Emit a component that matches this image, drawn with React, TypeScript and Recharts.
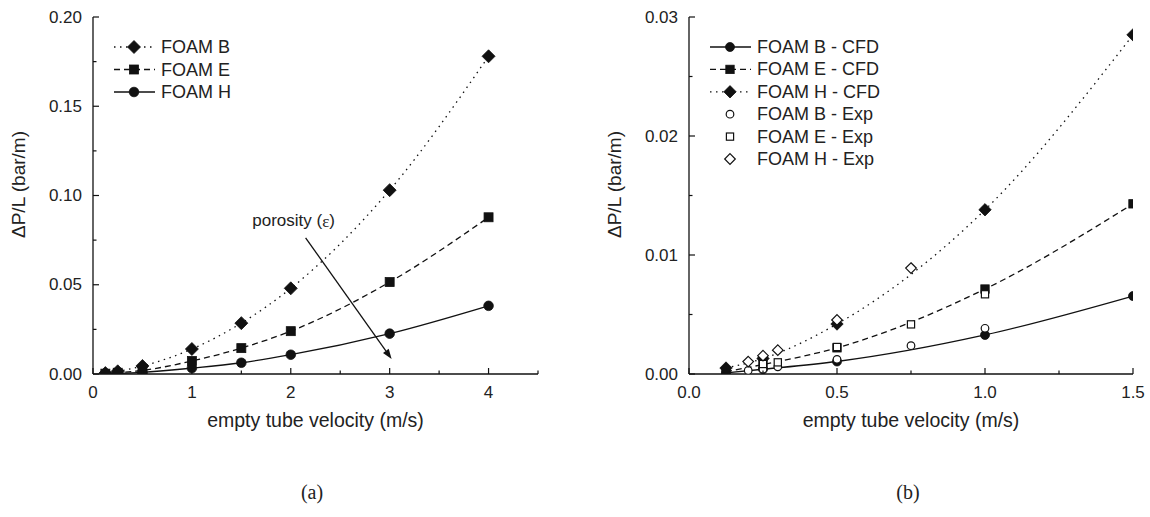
import React from 'react';
import { ComposedChart, Line, XAxis, YAxis, ReferenceLine, Legend } from 'recharts';

// ---------- data (a) ----------
const velA = [0.125, 0.25, 0.5, 1, 1.5, 2, 3, 4];
const foamB_A = [0.0005, 0.0015, 0.0045, 0.014, 0.0285, 0.048, 0.103, 0.178];
const foamE_A = [0.0002, 0.0007, 0.002, 0.0073, 0.0145, 0.024, 0.0515, 0.0878];
const foamH_A = [0.0001, 0.0003, 0.0009, 0.0033, 0.0063, 0.0108, 0.0226, 0.0382];

// ---------- data (b) ----------
const velCFD = [0.125, 0.25, 0.5, 1.0, 1.5];
const foamB_CFD = [0.0001, 0.0004, 0.00105, 0.00328, 0.00655];
const foamE_CFD = [0.0002, 0.0008, 0.0022, 0.00714, 0.0143];
const foamH_CFD = [0.0005, 0.0013, 0.0042, 0.0138, 0.0285];

const velExpB = [0.2, 0.25, 0.3, 0.5, 0.75, 1.0];
const foamB_Exp = [0.0003, 0.0004, 0.0006, 0.00123, 0.00238, 0.00384];
const velExpE = [0.25, 0.3, 0.5, 0.75, 1.0];
const foamE_Exp = [0.00084, 0.00098, 0.00227, 0.00417, 0.0067];
const velExpH = [0.2, 0.25, 0.3, 0.5, 0.75];
const foamH_Exp = [0.00104, 0.00154, 0.002, 0.00454, 0.0089];

// ---------- ticks ----------
const ticksXA = [0, 0.5, 1, 1.5, 2, 2.5, 3, 3.5, 4, 4.5];
const ticksYA = [0, 0.025, 0.05, 0.075, 0.1, 0.125, 0.15, 0.175, 0.2];
const ticksXB = [0, 0.25, 0.5, 0.75, 1.0, 1.25, 1.5];
const ticksYB = [0, 0.005, 0.01, 0.015, 0.02, 0.025, 0.03];

// ---------- labels ----------
const legendA = ['FOAM B', 'FOAM E', 'FOAM H'];
const legendB = ['FOAM B - CFD', 'FOAM E - CFD', 'FOAM H - CFD', 'FOAM B - Exp', 'FOAM E - Exp', 'FOAM H - Exp'];
const xTitle = 'empty tube velocity (m/s)';
const yTitle = '\u0394P/L (bar/m)';
const arrowText = 'porosity (';
const arrowStart = { x: 2.15, y: 0.0763 };
const arrowEnd = { x: 3.02, y: 0.0084 };
const panelLabels = ['(a)', '(b)'];

const toPts = (xs: number[], ys: number[]) => xs.map((x, i) => ({ x, y: ys[i] }));

const INK = '#111';
const TXT = '#222';
const DOTTED = '1.5 4.5';
const DASHED = '6 4';

function markerEl(kind: string, filled: boolean, cx: number, cy: number, size: number, key?: any) {
  const fill = filled ? INK : '#fff';
  const sw = filled ? 0.8 : 1.2;
  if (kind === 'circle') return <circle key={key} cx={cx} cy={cy} r={size} fill={fill} stroke={INK} strokeWidth={sw} />;
  if (kind === 'square') return <rect key={key} x={cx - size} y={cy - size} width={size * 2} height={size * 2} fill={fill} stroke={INK} strokeWidth={sw} />;
  return (
    <polygon key={key} points={`${cx},${cy - size} ${cx + size},${cy} ${cx},${cy + size} ${cx - size},${cy}`} fill={fill} stroke={INK} strokeWidth={sw} />
  );
}

const dot = (kind: string, filled: boolean, size: number) => (props: any) => {
  const { cx, cy, index } = props;
  if (cx == null || cy == null || isNaN(cx) || isNaN(cy)) return <g key={`n${index}`} />;
  return markerEl(kind, filled, cx, cy, size, `d${index}`);
};

function makeTick(side: string, majorStep: number, fmt: ((v: number) => string) | null) {
  return (props: any) => {
    const { x, y, payload } = props;
    const v = payload.value;
    const isMajor = Math.abs(v / majorStep - Math.round(v / majorStep)) < 1e-6;
    const L = isMajor ? 6 : 3.5;
    let line: any = null;
    let label: any = null;
    if (side === 'bottom') {
      line = <line x1={x} y1={y} x2={x} y2={y - L} stroke={INK} strokeWidth={1.2} />;
      if (fmt && isMajor) label = <text x={x} y={y + 18} textAnchor="middle" dominantBaseline="central" fontSize={17} fill={TXT}>{fmt(v)}</text>;
    } else if (side === 'top') {
      line = <line x1={x} y1={y} x2={x} y2={y + L} stroke={INK} strokeWidth={1.2} />;
    } else if (side === 'left') {
      line = <line x1={x} y1={y} x2={x + L} y2={y} stroke={INK} strokeWidth={1.2} />;
      if (fmt && isMajor) label = <text x={x - 11} y={y} textAnchor="end" dominantBaseline="central" fontSize={17} fill={TXT}>{fmt(v)}</text>;
    } else {
      line = <line x1={x} y1={y} x2={x - L} y2={y} stroke={INK} strokeWidth={1.2} />;
    }
    return <g>{line}{label}</g>;
  };
}

const xTitleLabel = (props: any) => {
  const vb = props.viewBox || {};
  return (
    <text x={vb.x + vb.width / 2} y={vb.y + 46} textAnchor="middle" dominantBaseline="central" fontSize={19.5} fill={TXT}>
      {xTitle}
    </text>
  );
};

const yTitleLabel = (props: any) => {
  const vb = props.viewBox || {};
  const cx = vb.x + vb.width - 75;
  const cy = vb.y + vb.height / 2 - 11;
  return (
    <text x={cx} y={cy} transform={`rotate(-90, ${cx}, ${cy})`} textAnchor="middle" dominantBaseline="central" fontSize={19} fill={TXT}>
      {yTitle}
    </text>
  );
};

const arrowShape = (p: any) => {
  const { x1, y1, x2, y2 } = p;
  const ang = Math.atan2(y2 - y1, x2 - x1);
  const L = 10, W = 3.5;
  const bx = x2 - L * Math.cos(ang), by = y2 - L * Math.sin(ang);
  const px = -Math.sin(ang) * W, py = Math.cos(ang) * W;
  return (
    <g>
      <line x1={x1} y1={y1} x2={bx} y2={by} stroke={INK} strokeWidth={1.3} />
      <polygon points={`${x2},${y2} ${bx + px},${by + py} ${bx - px},${by - py}`} fill={INK} />
      <text x={x1 - 12} y={y1 - 17} textAnchor="middle" dominantBaseline="central" fontSize={17} fill={TXT}>
        {arrowText}<tspan fontFamily="'Liberation Serif', 'Times New Roman', serif">{'\u03B5'}</tspan>)
      </text>
    </g>
  );
};

type LegendItem = { label: string; kind: string; filled: boolean; size: number; dash: string | null };

const LegendBox = ({ items, rowH }: { items: LegendItem[]; rowH: number }) => (
  <svg width={230} height={items.length * rowH + 6} style={{ display: 'block', overflow: 'visible' }}>
    {items.map((it, i) => {
      const cy = 11 + i * rowH;
      return (
        <g key={i}>
          {it.dash !== null && (
            <line x1={4} x2={45} y1={cy} y2={cy} stroke={INK} strokeWidth={1.3} strokeDasharray={it.dash || undefined} />
          )}
          {markerEl(it.kind, it.filled, 24, cy, it.size)}
          <text x={51} y={cy} dominantBaseline="central" fontSize={18} fill={TXT}>{it.label}</text>
        </g>
      );
    })}
  </svg>
);

const itemsA: LegendItem[] = [
  { label: legendA[0], kind: 'diamond', filled: true, size: 6.5, dash: DOTTED },
  { label: legendA[1], kind: 'square', filled: true, size: 4.5, dash: DASHED },
  { label: legendA[2], kind: 'circle', filled: true, size: 4.8, dash: '' },
];
const itemsB: LegendItem[] = [
  { label: legendB[0], kind: 'circle', filled: true, size: 4.5, dash: '' },
  { label: legendB[1], kind: 'square', filled: true, size: 4.2, dash: DASHED },
  { label: legendB[2], kind: 'diamond', filled: true, size: 6.2, dash: DOTTED },
  { label: legendB[3], kind: 'circle', filled: false, size: 3.8, dash: null },
  { label: legendB[4], kind: 'square', filled: false, size: 3.6, dash: null },
  { label: legendB[5], kind: 'diamond', filled: false, size: 5.3, dash: null },
];

const fmtInt = (v: number) => String(Math.round(v));
const fmt1 = (v: number) => v.toFixed(1);
const fmt2 = (v: number) => v.toFixed(2);

function Frame(props: { xDomain: number[]; yDomain: number[]; xTicks: number[]; yTicks: number[]; xMajor: number; yMajor: number; xFmt: (v: number) => string; yFmt: (v: number) => string }) {
  return null;
}

export default function App() {
  const margin = { top: 17, right: 22, left: 0, bottom: 6 };
  const marginB = { top: 17, right: 17, left: 0, bottom: 6 };
  return (
    <div style={{ position: 'absolute', left: 0, top: 0, width: 1150, height: 517, background: '#fff', fontFamily: "'Liberation Sans', Arial, Helvetica, sans-serif" }}>
      <div style={{ position: 'absolute', left: 0, top: 0 }}>
        <ComposedChart width={560} height={440} margin={margin}>
          <XAxis xAxisId={0} dataKey="x" type="number" domain={[0, 4.5]} ticks={ticksXA} interval={0} allowDataOverflow
            tickSize={0} tickMargin={0} tickLine={false} axisLine={{ stroke: INK, strokeWidth: 1.3 }} height={60}
            tick={makeTick('bottom', 1, fmtInt)} label={xTitleLabel} />
          <XAxis xAxisId="top" orientation="top" dataKey="x" type="number" domain={[0, 4.5]} ticks={ticksXA} interval={0} allowDataOverflow
            tickSize={0} tickMargin={0} tickLine={false} axisLine={{ stroke: INK, strokeWidth: 1.3 }} height={0}
            tick={makeTick('top', 1, null)} />
          <YAxis yAxisId={0} type="number" domain={[0, 0.2]} ticks={ticksYA} interval={0} allowDataOverflow
            tickSize={0} tickMargin={0} tickLine={false} axisLine={{ stroke: INK, strokeWidth: 1.3 }} width={93}
            tick={makeTick('left', 0.05, fmt2)} label={yTitleLabel} />
          <YAxis yAxisId="right" orientation="right" type="number" domain={[0, 0.2]} ticks={ticksYA} interval={0} allowDataOverflow
            tickSize={0} tickMargin={0} tickLine={false} axisLine={{ stroke: INK, strokeWidth: 1.3 }} width={0}
            tick={makeTick('right', 0.05, null)} />
          <Line data={toPts(velA, foamH_A)} dataKey="y" type="monotone" stroke={INK} strokeWidth={1.3} dot={dot('circle', true, 4.8)} activeDot={false} isAnimationActive={false} />
          <Line data={toPts(velA, foamE_A)} dataKey="y" type="monotone" stroke={INK} strokeWidth={1.3} strokeDasharray={DASHED} dot={dot('square', true, 4.5)} activeDot={false} isAnimationActive={false} />
          <Line data={toPts(velA, foamB_A)} dataKey="y" type="monotone" stroke={INK} strokeWidth={1.3} strokeDasharray={DOTTED} dot={dot('diamond', true, 6.5)} activeDot={false} isAnimationActive={false} />
          <ReferenceLine segment={[arrowStart, arrowEnd]} shape={arrowShape} ifOverflow="visible" />
          <Legend layout="vertical" align="center" verticalAlign="middle"
            wrapperStyle={{ left: 110, top: 36, width: 230, height: 80 }}
            content={() => <LegendBox items={itemsA} rowH={22.5} />} />
        </ComposedChart>
      </div>
      <div style={{ position: 'absolute', left: 560, top: 0 }}>
        <ComposedChart width={590} height={440} margin={marginB}>
          <XAxis xAxisId={0} dataKey="x" type="number" domain={[0, 1.5]} ticks={ticksXB} interval={0} allowDataOverflow
            tickSize={0} tickMargin={0} tickLine={false} axisLine={{ stroke: INK, strokeWidth: 1.3 }} height={60}
            tick={makeTick('bottom', 0.5, fmt1)} label={xTitleLabel} />
          <XAxis xAxisId="top" orientation="top" dataKey="x" type="number" domain={[0, 1.5]} ticks={ticksXB} interval={0} allowDataOverflow
            tickSize={0} tickMargin={0} tickLine={false} axisLine={{ stroke: INK, strokeWidth: 1.3 }} height={0}
            tick={makeTick('top', 0.5, null)} />
          <YAxis yAxisId={0} type="number" domain={[0, 0.03]} ticks={ticksYB} interval={0} allowDataOverflow
            tickSize={0} tickMargin={0} tickLine={false} axisLine={{ stroke: INK, strokeWidth: 1.3 }} width={129}
            tick={makeTick('left', 0.01, fmt2)} label={yTitleLabel} />
          <YAxis yAxisId="right" orientation="right" type="number" domain={[0, 0.03]} ticks={ticksYB} interval={0} allowDataOverflow
            tickSize={0} tickMargin={0} tickLine={false} axisLine={{ stroke: INK, strokeWidth: 1.3 }} width={0}
            tick={makeTick('right', 0.01, null)} />
          <Line data={toPts(velCFD, foamB_CFD)} dataKey="y" type="monotone" stroke={INK} strokeWidth={1.3} dot={dot('circle', true, 4.5)} activeDot={false} isAnimationActive={false} />
          <Line data={toPts(velCFD, foamE_CFD)} dataKey="y" type="monotone" stroke={INK} strokeWidth={1.3} strokeDasharray={DASHED} dot={dot('square', true, 4.2)} activeDot={false} isAnimationActive={false} />
          <Line data={toPts(velCFD, foamH_CFD)} dataKey="y" type="monotone" stroke={INK} strokeWidth={1.3} strokeDasharray={DOTTED} dot={dot('diamond', true, 6.2)} activeDot={false} isAnimationActive={false} />
          <Line data={toPts(velExpB, foamB_Exp)} dataKey="y" stroke="none" dot={dot('circle', false, 3.8)} activeDot={false} isAnimationActive={false} />
          <Line data={toPts(velExpE, foamE_Exp)} dataKey="y" stroke="none" dot={dot('square', false, 3.6)} activeDot={false} isAnimationActive={false} />
          <Line data={toPts(velExpH, foamH_Exp)} dataKey="y" stroke="none" dot={dot('diamond', false, 5.3)} activeDot={false} isAnimationActive={false} />
          <Legend layout="vertical" align="center" verticalAlign="middle"
            wrapperStyle={{ left: 146, top: 36, width: 230, height: 140 }}
            content={() => <LegendBox items={itemsB} rowH={22.4} />} />
        </ComposedChart>
      </div>
      <div style={{ position: 'absolute', left: 262, top: 478, width: 100, textAlign: 'center', fontFamily: "'Liberation Serif', 'Times New Roman', serif", fontSize: 20, color: TXT, lineHeight: '28px' }}>{panelLabels[0]}</div>
      <div style={{ position: 'absolute', left: 858, top: 478, width: 100, textAlign: 'center', fontFamily: "'Liberation Serif', 'Times New Roman', serif", fontSize: 20, color: TXT, lineHeight: '28px' }}>{panelLabels[1]}</div>
    </div>
  );
}
